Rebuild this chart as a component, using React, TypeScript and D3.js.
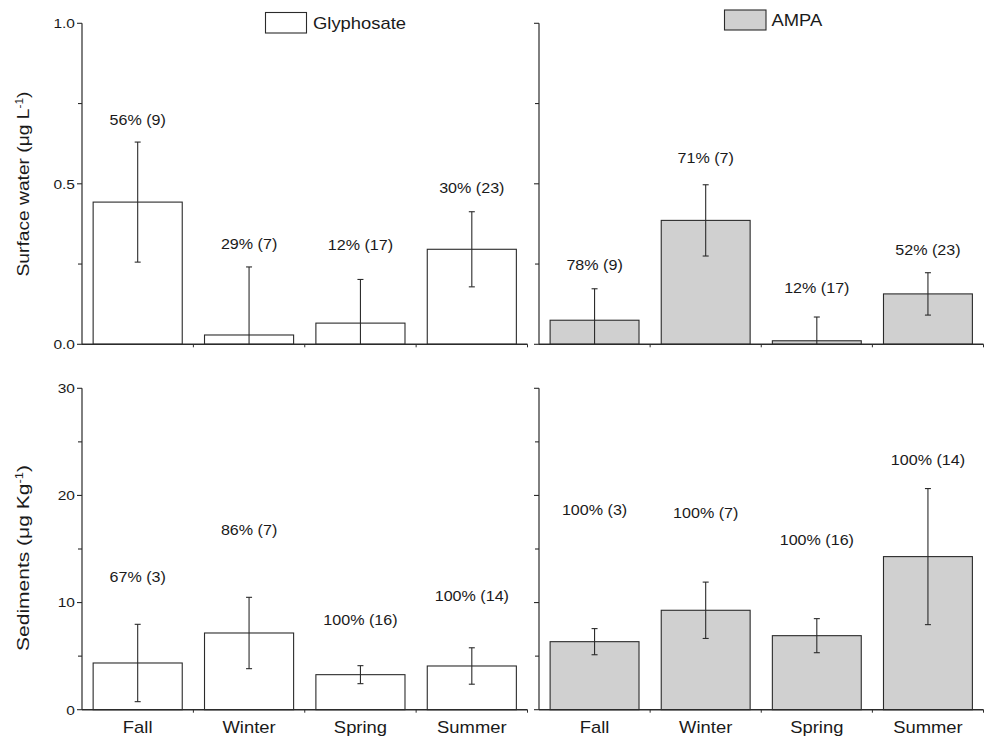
import React from 'react';
import * as d3 from 'd3';

const categories = ['Fall', 'Winter', 'Spring', 'Summer'];

// Surface water (µg L-1)
const glySurfMean = [0.443, 0.029, 0.066, 0.296];
const glySurfErr = [0.187, 0.212, 0.136, 0.117];
const glySurfLabels = ['56% (9)', '29% (7)', '12% (17)', '30% (23)'];
const glySurfLabelAt = [0.699, 0.313, 0.309, 0.488];

const ampaSurfMean = [0.075, 0.386, 0.011, 0.157];
const ampaSurfErr = [0.098, 0.111, 0.074, 0.066];
const ampaSurfLabels = ['78% (9)', '71% (7)', '12% (17)', '52% (23)'];
const ampaSurfLabelAt = [0.247, 0.579, 0.174, 0.294];

// Sediments (µg Kg-1)
const glySedMean = [4.36, 7.16, 3.27, 4.08];
const glySedErr = [3.61, 3.33, 0.84, 1.7];
const glySedLabels = ['67% (3)', '86% (7)', '100% (16)', '100% (14)'];
const glySedLabelAt = [12.42, 16.78, 8.37, 10.62];

const ampaSedMean = [6.35, 9.28, 6.91, 14.29];
const ampaSedErr = [1.22, 2.63, 1.59, 6.35];
const ampaSedLabels = ['100% (3)', '100% (7)', '100% (16)', '100% (14)'];
const ampaSedLabelAt = [18.65, 18.34, 15.84, 23.31];

const surfTicks = [0, 0.5, 1.0];
const surfMinor = [0.25, 0.75];
const sedTicks = [0, 10, 20, 30];
const sedMinor = [5, 15, 25];

const W = 987;
const H = 736;
const FONT = 'Arial, "Liberation Sans", sans-serif';
const SX = 1.15; // the source image is stretched a bit horizontally
const INK = '#2b2b2b';
const GREY = '#d0d0d0';

// stretched text helper
const T = ({ x, y, size, anchor = 'middle', children }: any) => (
  <text
    transform={`translate(${x},${y}) scale(${SX},1)`}
    fontSize={size}
    fontFamily={FONT}
    textAnchor={anchor}
    fill="#1a1a1a"
  >
    {children}
  </text>
);

interface PanelProps {
  x0: number;
  x1: number;
  y: d3.ScaleLinear<number, number>;
  mean: number[];
  err: number[];
  labels: string[];
  labelAt: number[];
  fill: string;
  ticks: number[];
  minor: number[];
  tickFmt?: (v: number) => string;
  showCats: boolean;
}

const Panel = ({ x0, x1, y, mean, err, labels, labelAt, fill, ticks, minor, tickFmt, showCats }: PanelProps) => {
  const x = d3.scaleBand<string>().domain(categories).range([x0, x1]).paddingInner(0.2).paddingOuter(0.1);
  const step = x.step();
  const bw = x.bandwidth();
  const [yBot, yTop] = y.range();
  const bounds = categories.map(c => x(c)! + bw + step * 0.1);

  return (
    <g>
      {/* bars */}
      {categories.map((c, i) => (
        <rect
          key={c}
          x={x(c)}
          y={y(mean[i])}
          width={bw}
          height={yBot - y(mean[i])}
          fill={fill}
          stroke={INK}
          strokeWidth={1.1}
        />
      ))}
      {/* error bars */}
      {categories.map((c, i) => {
        const cx = x(c)! + bw / 2;
        const hi = y(mean[i] + err[i]);
        const loV = mean[i] - err[i];
        const lo = y(Math.max(0, loV));
        return (
          <g key={c} stroke={INK} strokeWidth={1.1}>
            <line x1={cx} x2={cx} y1={hi} y2={lo} />
            <line x1={cx - 3} x2={cx + 3} y1={hi} y2={hi} />
            {loV > 0 && <line x1={cx - 3} x2={cx + 3} y1={lo} y2={lo} />}
          </g>
        );
      })}
      {/* percentage labels */}
      {categories.map((c, i) => (
        <T key={c} x={x(c)! + bw / 2} y={y(labelAt[i]) + 5} size={14}>
          {labels[i]}
        </T>
      ))}
      {/* y axis */}
      <line x1={x0} x2={x0} y1={yTop} y2={yBot} stroke={INK} strokeWidth={1.2} />
      {ticks.map(t => (
        <line key={t} x1={x0 - 5} x2={x0} y1={y(t)} y2={y(t)} stroke={INK} strokeWidth={1.1} />
      ))}
      {minor.map(t => (
        <line key={t} x1={x0 - 4} x2={x0} y1={y(t)} y2={y(t)} stroke={INK} strokeWidth={1.1} />
      ))}
      {tickFmt &&
        ticks.map(t => (
          <T key={t} x={x0 - 7} y={y(t) + 4.8} size={13.5} anchor="end">
            {tickFmt(t)}
          </T>
        ))}
      {/* x axis */}
      <line x1={x0} x2={x1} y1={yBot} y2={yBot} stroke={INK} strokeWidth={1.4} />
      {bounds.map((b, i) => (
        <line key={i} x1={b} x2={b} y1={yBot} y2={yBot + 3} stroke={INK} strokeWidth={1} />
      ))}
      {showCats &&
        categories.map(c => (
          <T key={c} x={x(c)! + bw / 2} y={yBot + 23} size={16}>
            {c}
          </T>
        ))}
    </g>
  );
};

const App = () => {
  const ySurf = d3.scaleLinear().domain([0, 1]).range([344.3, 23.3]);
  const ySed = d3.scaleLinear().domain([0, 30]).range([709.7, 388.3]);
  const left: [number, number] = [82, 527.5];
  const right: [number, number] = [539, 983.5];

  return (
    <div style={{ position: 'absolute', left: 0, top: 0 }}>
      <svg width={W} height={H} style={{ display: 'block', background: '#fff' }}>
        <Panel x0={left[0]} x1={left[1]} y={ySurf} mean={glySurfMean} err={glySurfErr}
          labels={glySurfLabels} labelAt={glySurfLabelAt} fill="#fff"
          ticks={surfTicks} minor={surfMinor} tickFmt={d3.format('.1f')} showCats={false} />
        <Panel x0={right[0]} x1={right[1]} y={ySurf} mean={ampaSurfMean} err={ampaSurfErr}
          labels={ampaSurfLabels} labelAt={ampaSurfLabelAt} fill={GREY}
          ticks={surfTicks} minor={surfMinor} showCats={false} />
        <Panel x0={left[0]} x1={left[1]} y={ySed} mean={glySedMean} err={glySedErr}
          labels={glySedLabels} labelAt={glySedLabelAt} fill="#fff"
          ticks={sedTicks} minor={sedMinor} tickFmt={d3.format('d')} showCats={true} />
        <Panel x0={right[0]} x1={right[1]} y={ySed} mean={ampaSedMean} err={ampaSedErr}
          labels={ampaSedLabels} labelAt={ampaSedLabelAt} fill={GREY}
          ticks={sedTicks} minor={sedMinor} showCats={true} />

        {/* y axis titles */}
        <text transform="translate(29,184) rotate(-90)" fontSize={17} fontFamily={FONT}
          textAnchor="middle" fill="#1a1a1a" textLength={185} lengthAdjust="spacingAndGlyphs">
          Surface water (μg L<tspan dy={-6} fontSize={10.5}>-1</tspan><tspan dy={6}>)</tspan>
        </text>
        <text transform="translate(29,558) rotate(-90)" fontSize={17} fontFamily={FONT}
          textAnchor="middle" fill="#1a1a1a" textLength={186} lengthAdjust="spacingAndGlyphs">
          Sediments (μg Kg<tspan dy={-6} fontSize={10.5}>-1</tspan><tspan dy={6}>)</tspan>
        </text>

        {/* legends */}
        <rect x={265.5} y={12.5} width={41} height={20.5} fill="#fff" stroke={INK} strokeWidth={1.1} />
        <T x={313} y={28.5} size={16} anchor="start">Glyphosate</T>
        <rect x={724.5} y={10} width={41.5} height={20} fill={GREY} stroke={INK} strokeWidth={1.1} />
        <T x={771.5} y={26} size={16} anchor="start">AMPA</T>
      </svg>
    </div>
  );
};

export default App;
